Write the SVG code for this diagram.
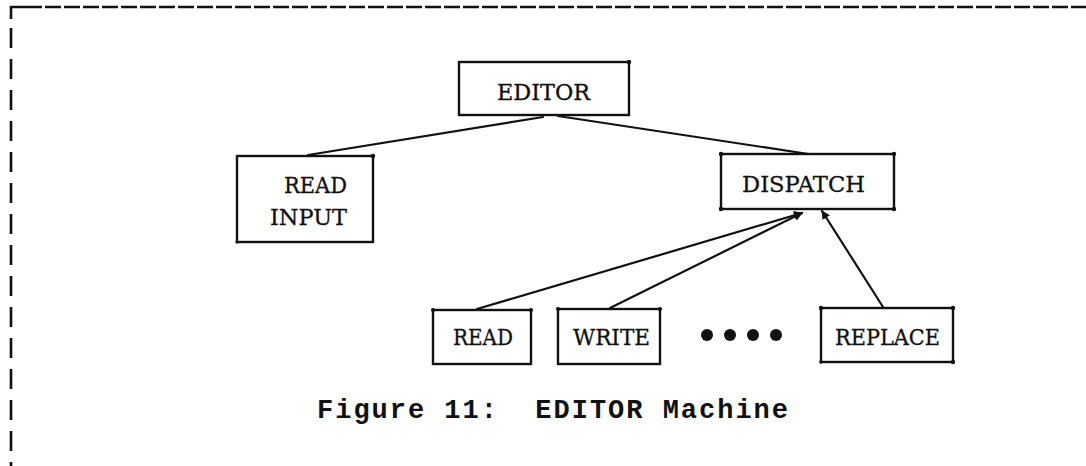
<svg xmlns="http://www.w3.org/2000/svg" width="1086" height="466" viewBox="0 0 1086 466">
  <style>
    .box { fill: #fff; stroke: #111; stroke-width: 2.4; }
    .corner { fill: #111; }
    .label { font-family: "DejaVu Serif", "Liberation Serif", serif; font-size: 22px; fill: #111; stroke: #111; stroke-width: 0.3; }
    .edge { stroke: #111; stroke-width: 2.2; stroke-linecap: round; fill: none; }
    .frame { stroke: #111; stroke-width: 2.6; fill: none; }
    .caption { font-family: "Liberation Mono", "DejaVu Sans Mono", monospace; font-size: 27px; font-weight: bold; fill: #111; white-space: pre; }
  </style>
  <defs>
    <marker id="head" viewBox="0 0 10 10" refX="9" refY="5" markerWidth="4" markerHeight="4" orient="auto">
      <path d="M0,0 L10,5 L0,10 Z" fill="#111"/>
    </marker>
  </defs>
  <rect width="1086" height="466" fill="#fff"/>

  <!-- dashed frame: top edge and left edge -->
  <g id="frame">
    <path class="frame" d="M11,19 V7 H26"/>
    <line class="frame" x1="26" y1="7" x2="1086" y2="7" stroke-dasharray="16 3"/>
    <line class="frame" x1="11" y1="28" x2="11" y2="466" stroke-dasharray="20 11"/>
  </g>

  <!-- connectors -->
  <g id="connectors">
    <line class="edge" x1="543" y1="117" x2="308" y2="155"/>
    <line class="edge" x1="558" y1="116" x2="815" y2="155"/>
    <line class="edge" x1="477" y1="309" x2="802" y2="213" marker-end="url(#head)"/>
    <line class="edge" x1="610" y1="308" x2="802" y2="213" marker-end="url(#head)"/>
    <line class="edge" x1="883" y1="307" x2="822" y2="211" marker-end="url(#head)"/>
  </g>

  <g id="editor">
    <rect class="box" x="459" y="62" width="170" height="53"/>
    <circle class="corner" cx="629" cy="62" r="2.2"/>
    <text class="label" x="497" y="100" textLength="93" lengthAdjust="spacingAndGlyphs">EDITOR</text>
  </g>

  <g id="read-input">
    <rect class="box" x="237" y="156" width="136" height="86"/>
    <circle class="corner" cx="373" cy="156" r="2.2"/>
    <circle class="corner" cx="237" cy="242" r="1.6"/>
    <text class="label" x="284" y="193" textLength="63" lengthAdjust="spacingAndGlyphs">READ</text>
    <text class="label" x="270" y="225" textLength="77" lengthAdjust="spacingAndGlyphs">INPUT</text>
  </g>

  <g id="dispatch">
    <rect class="box" x="721" y="154" width="173" height="55"/>
    <circle class="corner" cx="721" cy="154" r="2.2"/>
    <circle class="corner" cx="894" cy="154" r="2.2"/>
    <circle class="corner" cx="721" cy="209" r="2.2"/>
    <circle class="corner" cx="894" cy="209" r="2.2"/>
    <text class="label" x="742" y="192" textLength="123" lengthAdjust="spacingAndGlyphs">DISPATCH</text>
  </g>

  <g id="read">
    <rect class="box" x="433" y="310" width="98" height="54"/>
    <circle class="corner" cx="433" cy="310" r="2"/>
    <circle class="corner" cx="531" cy="310" r="2"/>
    <text class="label" x="453" y="345" textLength="60" lengthAdjust="spacingAndGlyphs">READ</text>
  </g>

  <g id="write">
    <rect class="box" x="558" y="309" width="102" height="55"/>
    <circle class="corner" cx="558" cy="309" r="2"/>
    <circle class="corner" cx="660" cy="309" r="2"/>
    <text class="label" x="573" y="345" textLength="77" lengthAdjust="spacingAndGlyphs">WRITE</text>
  </g>

  <g id="ellipsis">
    <circle cx="707" cy="335" r="6" fill="#111"/>
    <circle cx="730" cy="335" r="6" fill="#111"/>
    <circle cx="753" cy="335" r="6" fill="#111"/>
    <circle cx="776" cy="335" r="6" fill="#111"/>
  </g>

  <g id="replace">
    <rect class="box" x="821" y="308" width="132" height="54"/>
    <circle class="corner" cx="821" cy="308" r="2.2"/>
    <circle class="corner" cx="953" cy="308" r="2.2"/>
    <circle class="corner" cx="953" cy="362" r="2.2"/>
    <circle class="corner" cx="821" cy="362" r="1.8"/>
    <text class="label" x="835" y="345" textLength="105" lengthAdjust="spacingAndGlyphs">REPLACE</text>
  </g>

  <text class="caption" x="317" y="418" xml:space="preserve" textLength="471" lengthAdjust="spacing">Figure 11:  EDITOR Machine</text>
</svg>
